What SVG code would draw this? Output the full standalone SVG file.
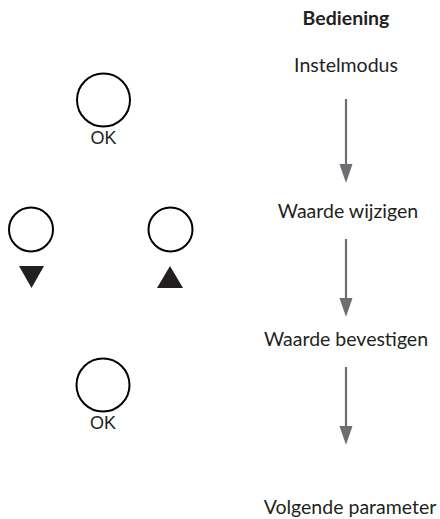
<svg xmlns="http://www.w3.org/2000/svg" width="440" height="519" viewBox="0 0 440 519">
<style>
.btn{fill:none;stroke:#000;stroke-width:2}
.lbl{font-family:Lato,"Open Sans",sans-serif;font-size:19.5px;fill:#231f20;text-anchor:middle}
.ok{font-family:"Liberation Sans",Arial,sans-serif;font-size:18px;fill:#231f20;text-anchor:middle}
.tri{fill:#231f20}
.conn{stroke:#6d6e71;stroke-width:2.2;fill:none}
.head{fill:#6d6e71}
</style>
<rect width="440" height="519" fill="#fff"/>
<g id="btn-ok-1"><circle class="btn" cx="103.5" cy="100" r="26.5"/><text class="ok" x="103.5" y="144">OK</text></g>
<g id="btn-down"><circle class="btn" cx="31" cy="229.5" r="22"/><polygon class="tri" points="19,266 44,266 31.5,288"/></g>
<g id="btn-up"><circle class="btn" cx="170.5" cy="229.5" r="22"/><polygon class="tri" points="157,288 183,288 170,266"/></g>
<g id="btn-ok-2"><circle class="btn" cx="103" cy="385" r="26.5"/><text class="ok" x="103" y="429">OK</text></g>
<g id="title"><text class="lbl" x="346" y="25" font-weight="bold">Bediening</text></g>
<g id="n1"><text class="lbl" x="346" y="72">Instelmodus</text></g>
<g id="n2"><text class="lbl" x="348" y="218">Waarde wijzigen</text></g>
<g id="n3"><text class="lbl" x="346" y="346">Waarde bevestigen</text></g>
<g id="n4"><text class="lbl" x="350" y="514">Volgende parameter</text></g>
<g id="connectors">
<line class="conn" x1="346" y1="99" x2="346" y2="166"/><polygon class="head" points="339.5,164 352.5,164 346,183"/>
<line class="conn" x1="346" y1="239" x2="346" y2="300"/><polygon class="head" points="339.5,298 352.5,298 346,317"/>
<line class="conn" x1="346" y1="367" x2="346" y2="428"/><polygon class="head" points="339.5,426 352.5,426 346,445"/>
</g>
</svg>
